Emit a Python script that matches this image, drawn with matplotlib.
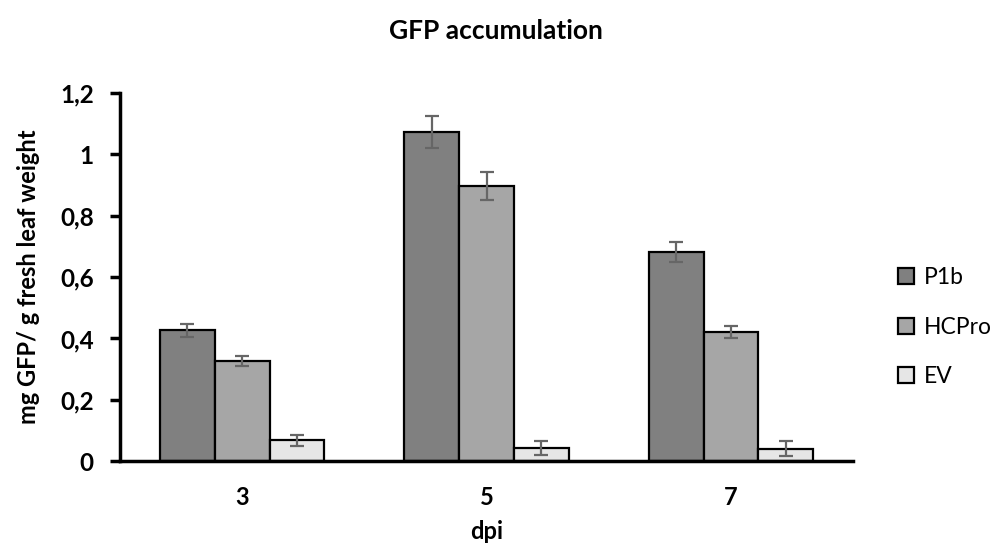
import numpy as np
import matplotlib.pyplot as plt
from matplotlib.ticker import FuncFormatter

plt.rcParams["font.family"] = ["Lato", "DejaVu Sans"]

# ── Data ─────────────────────────────────────────────────────────────────────
DPI_LABELS = ["3", "5", "7"]
SERIES     = ["P1b", "HCPro", "EV"]
P1B        = [0.427, 1.073, 0.683]
HCPRO      = [0.326, 0.898, 0.420]
EV         = [0.068, 0.043, 0.041]
P1B_ERR    = [0.021, 0.053, 0.033]
HCPRO_ERR  = [0.016, 0.045, 0.020]
EV_ERR     = [0.018, 0.022, 0.025]

COLORS = ["#808080", "#a6a6a6", "#e6e6e6"]

fig = plt.figure(figsize=(9.92, 5.51), dpi=100, facecolor="white")
ax = fig.add_axes([0.121, 0.163, 0.739, 0.668])

x = np.arange(len(DPI_LABELS))
w = 0.224
values = [P1B, HCPRO, EV]
errors = [P1B_ERR, HCPRO_ERR, EV_ERR]
for i, (vals, errs, col, name) in enumerate(zip(values, errors, COLORS, SERIES)):
    ax.bar(x + (i - 1) * w, vals, width=w, color=col, edgecolor="black",
           linewidth=1.6, label=name, zorder=2)
    ax.errorbar(x + (i - 1) * w, vals, yerr=errs, fmt="none", ecolor="#666666",
                elinewidth=1.6, capsize=5, capthick=1.6, zorder=3)

ax.set_xlim(-0.5, 2.5)
ax.set_ylim(0, 1.2)
ax.set_yticks(np.arange(0, 1.21, 0.2))
ax.yaxis.set_major_formatter(FuncFormatter(
    lambda v, _: "0" if abs(v) < 1e-9 else ("1" if abs(v - 1) < 1e-9 else f"{v:.1f}".replace(".", ","))))
ax.set_xticks(x)
ax.set_xticklabels(DPI_LABELS)

for s in ["top", "right"]:
    ax.spines[s].set_visible(False)
for s in ["left", "bottom"]:
    ax.spines[s].set_linewidth(2.5)
ax.tick_params(axis="y", length=7, width=2.5, labelsize=17.5, pad=12)
ax.tick_params(axis="x", length=0, labelsize=17, pad=18)
for lab in ax.get_xticklabels() + ax.get_yticklabels():
    lab.set_fontweight("bold")

ax.set_ylabel("mg GFP/ g fresh leaf weight", fontsize=17, fontweight="bold", labelpad=14)
ax.set_xlabel("dpi", fontsize=17, fontweight="bold", labelpad=8)
fig.suptitle("GFP accumulation", x=0.5, y=0.965, fontsize=19, fontweight="bold")

ax.legend(loc="center left", bbox_to_anchor=(1.033, 0.364), frameon=False, fontsize=16.5,
          handlelength=0.68, handleheight=0.68, handletextpad=0.45, labelspacing=1.25)

fig.savefig("out.png", dpi=100, facecolor="white")
